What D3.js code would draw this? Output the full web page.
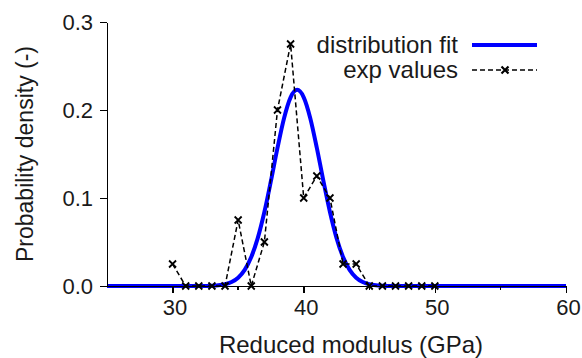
<!DOCTYPE html>
<html lang="en">
  <head>
    <meta charset="utf-8">
    <title>Reduced modulus distribution</title>
    <script src="https://d3js.org/d3.v7.min.js"></script>
    <style type="text/css">
        body {
          margin: 0;
          background: #fff;
        }
        .chart text {
          font-family: "Liberation Sans", Arial, Helvetica, sans-serif;
          fill: #1a1a1a;
        }
        .axis path,
        .axis line {
          stroke: #000;
          stroke-width: 1.5px;
          shape-rendering: crispEdges;
        }
    </style>
  </head>
  <body>
    <div class="chart" id="chart"></div>

    <script>
        // experimental values (histogram of measured reduced modulus)
        var expModulus = [30, 31, 32, 33, 34, 35, 36, 37, 38, 39, 40, 41, 42, 43, 44, 45, 46, 47, 48, 49, 50];
        var expDensity = [0.025, 0, 0, 0, 0, 0.075, 0, 0.05, 0.2, 0.275, 0.1, 0.125, 0.1, 0.025, 0.025, 0, 0, 0, 0, 0, 0];

        // fitted distribution
        var fitModulus = [25, 32.5, 33, 33.5, 34, 34.5, 35, 35.5, 36, 36.5, 37, 37.5, 38, 38.5, 39, 39.5,
                          40, 40.5, 41, 41.5, 42, 42.5, 43, 43.5, 44, 44.5, 45, 45.5, 46, 46.5, 60];
        var fitDensity = [0, 0, 0.0003, 0.0008, 0.002, 0.0045, 0.0094, 0.0183, 0.0329, 0.0547, 0.0841, 0.1194, 0.1569, 0.1907, 0.2144, 0.2229,
                          0.2144, 0.1907, 0.1569, 0.1194, 0.0841, 0.0547, 0.0329, 0.0183, 0.0094, 0.0045, 0.002, 0.0008, 0.0003, 0, 0];

        var xTicks = [30, 40, 50, 60];
        var xMinorTicks = [35, 45, 55];
        var yTicks = [0, 0.1, 0.2, 0.3];
        var legendLabels = ["distribution fit", "exp values"];

        var width = 582, height = 358;
        var margin = {top: 22, right: 16, bottom: 72, left: 107};

        var svg = d3.select("#chart").append("svg")
            .attr("width", width)
            .attr("height", height);

        var x = d3.scaleLinear().domain([25, 60]).range([margin.left, width - margin.right]);
        var y = d3.scaleLinear().domain([0, 0.3]).range([height - margin.bottom, margin.top]);

        var fit = fitModulus.map(function(m, i) { return {x: m, y: fitDensity[i]}; });
        var exp = expModulus.map(function(m, i) { return {x: m, y: expDensity[i]}; });

        var line = d3.line()
            .x(function(d) { return x(d.x); })
            .y(function(d) { return y(d.y); });

        // fit curve
        svg.append("path")
            .datum(fit)
            .attr("fill", "none")
            .attr("stroke", "#0000ff")
            .attr("stroke-width", 4)
            .attr("stroke-linejoin", "round")
            .attr("d", line.curve(d3.curveMonotoneX));

        // axes
        var xAxis = svg.append("g")
            .attr("class", "axis")
            .attr("transform", "translate(0," + y(0) + ")")
            .call(d3.axisBottom(x).tickValues(xTicks).tickSize(7).tickPadding(6).tickSizeOuter(0));
        xAxis.selectAll("text").style("font-size", "22px").attr("dx", 2);

        xAxis.selectAll(".minor")
            .data(xMinorTicks)
            .enter().append("line")
              .attr("class", "minor")
              .attr("x1", function(d) { return x(d); })
              .attr("x2", function(d) { return x(d); })
              .attr("y1", 0)
              .attr("y2", 3.5);

        var yAxis = svg.append("g")
            .attr("class", "axis")
            .attr("transform", "translate(" + x(25) + ",0)")
            .call(d3.axisLeft(y).tickValues(yTicks).tickFormat(d3.format(".1f")).tickSize(7).tickPadding(7).tickSizeOuter(0));
        yAxis.selectAll("text").style("font-size", "22px");

        // experimental values
        var cross = "M-3.5,-3.5L3.5,3.5M-3.5,3.5L3.5,-3.5";

        svg.append("path")
            .datum(exp)
            .attr("fill", "none")
            .attr("stroke", "#000")
            .attr("stroke-width", 1.5)
            .attr("stroke-dasharray", "5,3")
            .attr("d", line.curve(d3.curveLinear));

        svg.selectAll(".marker")
            .data(exp)
            .enter().append("path")
              .attr("class", "marker")
              .attr("transform", function(d) { return "translate(" + x(d.x) + "," + y(d.y) + ")"; })
              .attr("d", cross)
              .attr("stroke", "#000")
              .attr("stroke-width", 1.8);

        // axis titles
        svg.append("text")
            .attr("x", 351)
            .attr("y", 353)
            .attr("text-anchor", "middle")
            .style("font-size", "24px")
            .text("Reduced modulus (GPa)");

        svg.append("text")
            .attr("transform", "translate(33," + (y(0) + y(0.3)) / 2 + ") rotate(-90)")
            .attr("text-anchor", "middle")
            .style("font-size", "23px")
            .text("Probability density (-)");

        // legend
        var legend = svg.append("g").attr("transform", "translate(458,45)");

        legend.selectAll("text")
            .data(legendLabels)
            .enter().append("text")
              .attr("x", 0)
              .attr("y", function(d, i) { return i * 25 + 8; })
              .attr("text-anchor", "end")
              .style("font-size", "24px")
              .text(function(d) { return d; });

        legend.append("line")
            .attr("x1", 14).attr("x2", 79)
            .attr("y1", 0).attr("y2", 0)
            .attr("stroke", "#0000ff")
            .attr("stroke-width", 4);

        legend.append("line")
            .attr("x1", 14).attr("x2", 79)
            .attr("y1", 25).attr("y2", 25)
            .attr("stroke", "#000")
            .attr("stroke-width", 1.5)
            .attr("stroke-dasharray", "5,3");

        legend.append("path")
            .attr("transform", "translate(47,25)")
            .attr("d", cross)
            .attr("stroke", "#000")
            .attr("stroke-width", 2.2);

    </script>
  </body>
</html>
